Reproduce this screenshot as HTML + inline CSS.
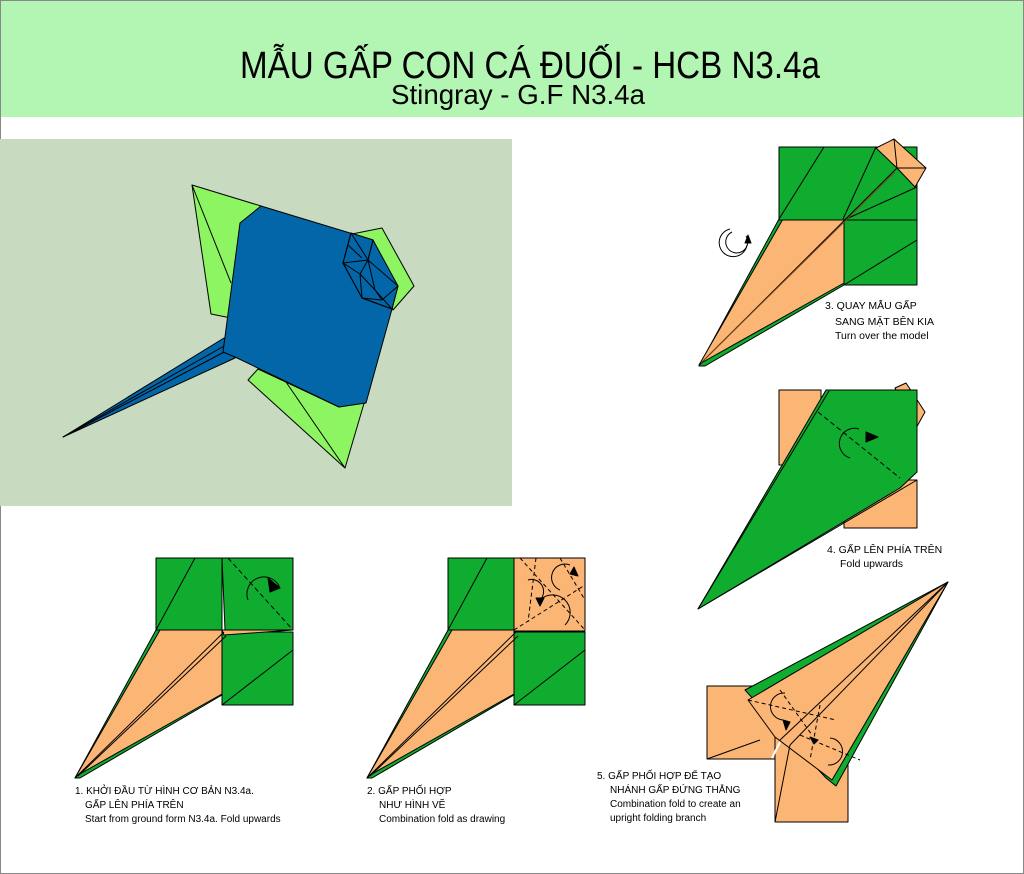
<!DOCTYPE html>
<html><head><meta charset="utf-8"><style>
html,body{margin:0;padding:0;background:#fff}
svg{display:block}
text{font-family:"Liberation Sans",sans-serif}
</style></head><body>
<svg width="1024" height="874" viewBox="0 0 1024 874" xmlns="http://www.w3.org/2000/svg">
<rect x="0" y="0" width="1024" height="874" fill="#fff"/>
<rect x="0" y="0" width="1024" height="117" fill="#b3f5b3"/>
<text x="530" y="78" font-size="38" text-anchor="middle" textLength="580" lengthAdjust="spacingAndGlyphs">MẪU GẤP CON CÁ ĐUỐI - HCB N3.4a</text>
<text x="518" y="104" font-size="28" text-anchor="middle" textLength="254" lengthAdjust="spacingAndGlyphs">Stingray - G.F N3.4a</text>
<rect x="0.5" y="0.5" width="1023" height="873" fill="none" stroke="#888" stroke-width="1"/>

<!-- photo -->
<rect x="0" y="139" width="512" height="367" fill="#c8dac0"/>
<g stroke="#000" stroke-width="1" stroke-linejoin="round">
<polygon points="192,185 261,206 231,318 211,314" fill="#8ef562"/>
<line x1="192" y1="185" x2="231" y2="283"/>
<polygon points="352,234 382,228 414,286 393,310 373,240" fill="#8ef562"/>
<polygon points="248,380 258,369 339,407 365,400 345,468" fill="#8ef562"/>
<line x1="286" y1="382" x2="345" y2="468"/>
<polygon points="63,437 224,338 235,358" fill="#0366a8"/>
<line x1="63" y1="437" x2="228" y2="350"/>
<line x1="63" y1="437" x2="226" y2="345"/>
<polygon points="240,223 261,206 350,233 373,240 398,286 392,309 366,403 339,407 235,357 223,352" fill="#0366a8"/>
<polygon points="351,233 373,240 368,260 398,286 392,309 362,298 343,263" fill="#0366a8"/>
<path d="M351,233 L343,263 L362,298 L392,309 M351,233 L368,260 L343,263 M348,245 L362,258 M343,263 L360,274 L362,298 M360,274 L375,290 L392,309 M368,260 L375,290 M360,274 L368,260 M375,290 L382,300 L362,298 M373,240 L368,260 M382,300 L398,286" fill="none"/>
</g>

<!-- step 3 -->
<g stroke="#000" stroke-width="1" stroke-linejoin="round">
<polygon points="699,366 779,219 844,219 844,285 705,366" fill="#0fac2f"/>
<polygon points="699,365 783,219 844,219 844,283 703,362" fill="#fbb574"/>
<rect x="779" y="147" width="138" height="73" fill="#0fac2f"/>
<rect x="844" y="220" width="73" height="65" fill="#0fac2f"/>
<line x1="779" y1="219" x2="824" y2="147"/>
<line x1="843" y1="219" x2="876" y2="147"/>
<line x1="844" y1="220" x2="917" y2="187"/>
<line x1="844" y1="285" x2="917" y2="240"/>
<polygon points="876,148 894,139 926,168 915,187 897,168" fill="#fbb574"/>
<path d="M894,139 L897,168 M897,168 L926,168" fill="none"/>
<line x1="699" y1="365" x2="897" y2="168"/>
<line x1="701" y1="363" x2="895" y2="172" stroke="#7a4a20"/>
<path d="M746,236 A11,11 0 1 1 732,232" fill="none"/>
<path d="M747,245 A14,14 0 1 1 730,229" fill="none"/>
<polygon points="748,235 745,243 751,243" fill="#000"/>
</g>
<text x="825" y="309" font-size="10.5">3. QUAY MẪU GẤP</text>
<text x="835" y="325" font-size="10.5">SANG MẶT BÊN KIA</text>
<text x="835" y="339" font-size="10.5">Turn over the model</text>

<!-- step 4 -->
<g stroke="#000" stroke-width="1" stroke-linejoin="round">
<polygon points="895,388 906,383 925,412 915,430" fill="#fbb574"/>
<rect x="779" y="390" width="42" height="75" fill="#fbb574"/>
<rect x="844" y="480" width="73" height="48" fill="#fbb574"/>
<polygon points="698,609 826,390 917,390 917,472 900,488" fill="#0fac2f"/>
<line x1="698" y1="609" x2="829" y2="391"/>
<line x1="698" y1="609" x2="917" y2="480"/>
<line x1="818" y1="412" x2="900" y2="478" stroke-dasharray="5,3"/>
<path d="M859,429 A12,12 0 0 0 850,458" fill="none"/>
<polygon points="866,432 878,437 866,442" fill="#000"/>
</g>
<text x="827" y="553" font-size="10.5">4. GẤP LÊN PHÍA TRÊN</text>
<text x="840" y="567" font-size="10.5">Fold upwards</text>

<!-- step 1 -->
<g stroke="#000" stroke-width="1" stroke-linejoin="round">
<polygon points="75,778 156,630 222,630 222,695 80,778" fill="#0fac2f"/>
<polygon points="75,778 160,630 222,630 222,694 78,775" fill="#fbb574"/>
<rect x="156" y="558" width="66" height="72" fill="#0fac2f"/>
<rect x="222" y="632" width="71" height="73" fill="#0fac2f"/>
<polygon points="222,558 293,558 293,630 225,630" fill="#0fac2f"/>
<line x1="156" y1="630" x2="195" y2="558"/>
<line x1="222" y1="705" x2="293" y2="650"/>
<line x1="228" y1="558" x2="293" y2="630" stroke-dasharray="5,3"/>
<polygon points="222,630 293,630 224,635" fill="#fbb574"/>
<line x1="75" y1="778" x2="224" y2="632"/>
<line x1="78" y1="776" x2="226" y2="636"/>
<path d="M280,588 A13,13 0 0 0 248,600" fill="none"/>
<polygon points="268,578 280,588 270,592" fill="#000"/>
</g>
<text x="75" y="794" font-size="10">1. KHỞI ĐẦU TỪ HÌNH CƠ BẢN N3.4a.</text>
<text x="85" y="808" font-size="10">GẤP LÊN PHÍA TRÊN</text>
<text x="85" y="822" font-size="10">Start from ground form N3.4a. Fold upwards</text>

<!-- step 2 -->
<g stroke="#000" stroke-width="1" stroke-linejoin="round">
<polygon points="367,778 448,630 514,630 514,695 372,778" fill="#0fac2f"/>
<polygon points="367,778 452,630 514,630 514,694 370,775" fill="#fbb574"/>
<rect x="448" y="558" width="66" height="72" fill="#0fac2f"/>
<rect x="514" y="632" width="71" height="73" fill="#0fac2f"/>
<rect x="514" y="558" width="71" height="73" fill="#fbb574"/>
<line x1="448" y1="630" x2="487" y2="558"/>
<line x1="514" y1="705" x2="585" y2="650"/>
<g stroke-dasharray="4,3" fill="none">
<line x1="520" y1="558" x2="585" y2="630"/>
<line x1="514" y1="630" x2="585" y2="585"/>
<line x1="536" y1="558" x2="528" y2="622"/>
<line x1="560" y1="558" x2="585" y2="600"/>
</g>
<line x1="367" y1="778" x2="516" y2="632"/>
<line x1="370" y1="776" x2="518" y2="636"/>
<path d="M570,565 A12,12 0 0 0 560,590 M528,580 A12,12 0 0 1 540,600 M540,600 A12,12 0 0 1 565,625" fill="none"/>
<polygon points="574,567 578,576 570,574" fill="#000"/>
<polygon points="536,598 540,606 544,598" fill="#000"/>
</g>
<text x="367" y="794" font-size="10">2. GẤP PHỐI HỢP</text>
<text x="379" y="808" font-size="10">NHƯ HÌNH VẼ</text>
<text x="379" y="822" font-size="10">Combination fold as drawing</text>

<!-- step 5 -->
<g stroke="#000" stroke-width="1" stroke-linejoin="round">
<rect x="707" y="686" width="73" height="73" fill="#fbb574"/>
<rect x="775" y="737" width="73" height="85" fill="#fbb574"/>
<polygon points="745,690 948,582 836,786 826,778" fill="#0fac2f"/>
<polygon points="748,700 948,582 832,780 775,737" fill="#fbb574"/>
<line x1="707" y1="759" x2="760" y2="740"/>
<line x1="775" y1="822" x2="790" y2="745"/>
<line x1="780" y1="740" x2="948" y2="582"/>
<line x1="790" y1="745" x2="948" y2="582"/>
<g stroke-dasharray="4,3" fill="none">
<line x1="748" y1="700" x2="836" y2="720"/>
<line x1="780" y1="690" x2="812" y2="735"/>
<line x1="820" y1="705" x2="810" y2="760"/>
<line x1="800" y1="735" x2="860" y2="760"/>
</g>
<path d="M785,693 A10,10 0 0 0 783,720 M830,738 A10,10 0 0 1 828,765" fill="none"/>
<polygon points="783,720 790,722 786,730" fill="#000"/>
<polygon points="810,737 814,744 818,740" fill="#000"/>
<line x1="780" y1="742" x2="772" y2="758" stroke="#fff" stroke-width="2"/>
</g>
<text x="597" y="779" font-size="10">5. GẤP PHỐI HỢP ĐỂ TẠO</text>
<text x="610" y="793" font-size="10">NHÁNH GẤP ĐỨNG THẲNG</text>
<text x="610" y="807" font-size="10">Combination fold to create an</text>
<text x="610" y="821" font-size="10">upright folding branch</text>
</svg>
</body></html>
